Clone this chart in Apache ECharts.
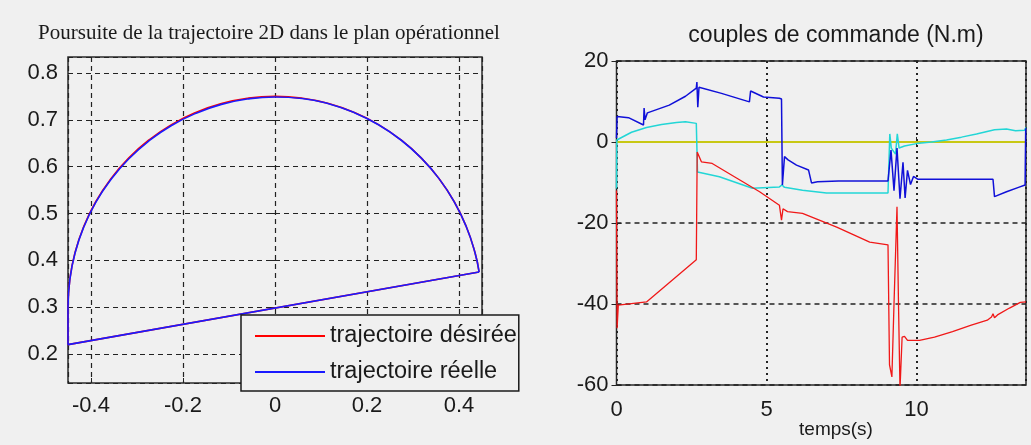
<!DOCTYPE html>
<html>
<head>
<meta charset="utf-8">
<script src="https://cdn.jsdelivr.net/npm/echarts@6/dist/echarts.min.js"></script>
<style>
  html, body { margin: 0; padding: 0; background: #f0f0f0; }
  #chart { width: 1031px; height: 445px; }
</style>
</head>
<body>
<div id="chart"></div>
<script>
// ---- Left panel: 2D trajectory in the operational plane ----
const planeXRange = [-0.45, 0.45];
const planeYRange = [0.138, 0.834];

// upper arc of the path
const desiredArcX = [-0.45, -0.4461, -0.4347, -0.4157, -0.3897, -0.3570, -0.3182, -0.2739, -0.225, -0.1722, -0.1165, -0.0587, 0, 0.0587, 0.1165, 0.1722, 0.225, 0.2739, 0.3182, 0.3570, 0.3897, 0.4157, 0.4347, 0.4437];
const desiredArcY = [0.30, 0.3587, 0.4165, 0.4722, 0.525, 0.5739, 0.6182, 0.6570, 0.6897, 0.7157, 0.7347, 0.7461, 0.75, 0.7461, 0.7347, 0.7157, 0.6897, 0.6570, 0.6182, 0.5739, 0.525, 0.4722, 0.4165, 0.375];
// straight return segment
const desiredChordX = [0.4437, -0.45, -0.45];
const desiredChordY = [0.375, 0.22, 0.30];

const realArcX = [-0.45, -0.4461, -0.4347, -0.4157, -0.3897, -0.3570, -0.3182, -0.2739, -0.225, -0.1722, -0.1165, -0.0587, 0, 0.0587, 0.1165, 0.1722, 0.225, 0.2739, 0.3182, 0.3570, 0.3897, 0.4157, 0.4347, 0.4437];
const realArcY = [0.30, 0.3580, 0.4155, 0.4710, 0.5235, 0.5720, 0.6162, 0.6550, 0.6877, 0.7137, 0.7329, 0.7445, 0.7487, 0.7455, 0.7342, 0.7153, 0.6894, 0.6568, 0.6180, 0.5738, 0.5249, 0.4721, 0.4165, 0.375];
const realChordX = [0.4437, -0.45, -0.45];
const realChordY = [0.375, 0.22, 0.30];

const planeNames = ['trajectoire désirée', 'trajectoire réelle'];

// ---- Right panel: control torques (N.m) against time (s) ----
const timeRange = [0, 13.65];
const torqueRange = [-60, 20];

const tBlue = [0, 0.02, 0.4, 0.9, 0.92, 0.95, 1.03, 1.76, 2.3, 2.66, 2.68, 2.71, 2.75, 3.5, 4.43, 4.47, 4.9, 5.43, 5.5, 5.53, 5.6, 5.72, 6.0, 6.4, 6.5, 6.7, 7.4, 9.05, 9.15, 9.25, 9.35, 9.45, 9.55, 9.62, 9.7, 9.8, 9.9, 10.05, 12.55, 12.6, 13.0, 13.4, 13.62, 13.64];
const uBlue = [1.0, 6.3, 6.0, 4.2, 8.4, 5.5, 7.2, 9.1, 11.3, 13.3, 14.8, 8.6, 13.5, 12.0, 9.9, 12.6, 11.1, 10.8, 10.6, -10.6, -3.6, -4.4, -5.7, -6.9, -10.1, -9.8, -9.6, -9.6, -2.0, -12.0, -1.5, -14.0, -5.0, -13.8, -7.0, -10.5, -8.5, -9.2, -9.2, -13.5, -12.3, -11.2, -10.6, 3.4];

const tCyan = [0, 0.01, 0.5, 1.0, 1.5, 2.0, 2.3, 2.66, 2.7, 3.43, 4.53, 5.43, 5.52, 5.6, 6.2, 7.0, 9.05, 9.08, 9.11, 9.16, 9.3, 9.36, 9.42, 9.6, 10.0, 10.5, 11.0, 11.5, 12.0, 12.6, 13.0, 13.3, 13.6, 13.65];
const uCyan = [-11.5, 0.5, 2.4, 3.6, 4.3, 4.8, 5.0, 4.6, -7.4, -8.6, -11.4, -11.1, -10.6, -11.2, -11.9, -12.6, -12.6, -12.6, 2.0, -1.5, -3.0, 2.0, -1.5, -1.0, -0.4, 0.0, 0.5, 1.2, 2.0, 3.0, 3.2, 2.8, 2.9, 3.6];

const tRed = [0, 0.02, 0.06, 1.0, 2.66, 2.69, 2.83, 3.19, 4.0, 4.77, 5.43, 5.5, 5.55, 5.7, 6.2, 7.34, 8.44, 9.05, 9.1, 9.18, 9.25, 9.35, 9.4, 9.45, 9.52, 9.6, 9.7, 10.1, 10.6, 11.2, 11.8, 12.36, 12.5, 12.55, 12.6, 12.7, 13.1, 13.46, 13.65];
const uRed = [-12, -46, -40.3, -39.5, -29.1, -2.5, -4.9, -5.3, -8.9, -12.3, -15.6, -19.3, -16.5, -17.2, -17.6, -21.0, -24.7, -25.4, -55, -58, -40, -16, -40, -61, -48.2, -48, -49, -49, -48.2, -46.8, -45.3, -44, -43.2, -42.4, -43.4, -42.7, -41, -39.6, -39.5];

const tYellow = [0, 13.65];
const uYellow = [0, 0];

const pairs = (xs, ys) => xs.map((x, i) => [x, ys[i]]);

const SANS = '"Liberation Sans", Arial, sans-serif';
const SERIF = '"Liberation Serif", "Times New Roman", serif';
const INK = '#1a1a1a';
const BG = '#f0f0f0';
const RED = '#ff0000';
const BLUE = '#1a1aff';

const tickIn = { show: true, inside: true, length: 5, lineStyle: { color: '#222', width: 1 } };
const labelStyle = { fontFamily: SANS, fontSize: 22, color: INK };

function mirrorAxis(gridIndex, position, range, interval) {
  const ax = {
    type: 'value', gridIndex, position, min: range[0], max: range[1],
    axisLine: { show: false }, axisTick: tickIn, axisLabel: { show: false }, splitLine: { show: false }
  };
  if (interval) ax.interval = interval;
  return ax;
}

function planeLine(name, xs, ys, color, smooth) {
  return { name, type: 'line', xAxisIndex: 0, yAxisIndex: 0, data: pairs(xs, ys), smooth,
    showSymbol: false, symbol: 'none', color, lineStyle: { width: 1.6 } };
}

function torqueLine(ts, us, color, width) {
  return { type: 'line', xAxisIndex: 1, yAxisIndex: 1, data: pairs(ts, us),
    showSymbol: false, symbol: 'none', color, lineStyle: { width } };
}

const option = {
  animation: false,
  backgroundColor: BG,
  grid: [
    { left: 68, top: 57, width: 414, height: 326, show: true, borderColor: '#2a2a2a', borderWidth: 1.5, backgroundColor: 'transparent' },
    { left: 616.5, top: 61, width: 409.5, height: 324, show: true, borderColor: '#2a2a2a', borderWidth: 1.5, backgroundColor: 'transparent' }
  ],
  xAxis: [
    { type: 'value', gridIndex: 0, min: planeXRange[0], max: planeXRange[1], position: 'bottom',
      axisLine: { show: false }, axisTick: tickIn,
      axisLabel: Object.assign({ margin: 12, showMinLabel: false, showMaxLabel: false }, labelStyle),
      splitLine: { show: true, lineStyle: { color: '#222', width: 1.2, type: [5, 4] } } },
    { type: 'value', gridIndex: 1, min: timeRange[0], max: timeRange[1], interval: 5, position: 'bottom',
      axisLine: { show: false }, axisTick: tickIn,
      axisLabel: Object.assign({ margin: 14, showMaxLabel: false }, labelStyle),
      splitLine: { show: true, lineStyle: { color: '#222', width: 2, type: [2, 4] } } },
    mirrorAxis(0, 'top', planeXRange),
    mirrorAxis(1, 'top', timeRange, 5)
  ],
  yAxis: [
    { type: 'value', gridIndex: 0, min: planeYRange[0], max: planeYRange[1], position: 'left',
      axisLine: { show: false }, axisTick: tickIn,
      axisLabel: Object.assign({ margin: 10, showMinLabel: false, showMaxLabel: false }, labelStyle),
      splitLine: { show: true, lineStyle: { color: '#222', width: 1.2, type: [5, 4] } } },
    { type: 'value', gridIndex: 1, min: torqueRange[0], max: torqueRange[1], interval: 20, position: 'left',
      axisLine: { show: false }, axisTick: tickIn,
      axisLabel: Object.assign({ margin: 8 }, labelStyle),
      splitLine: { show: true, lineStyle: { color: '#222', width: 1.5, type: [5, 4] } } },
    mirrorAxis(0, 'right', planeYRange),
    mirrorAxis(1, 'right', torqueRange, 20)
  ],
  legend: {
    orient: 'vertical', left: 241, top: 315,
    padding: [8, 2, 6, 14],
    itemWidth: 70, itemHeight: 2, itemGap: 10,
    backgroundColor: BG, borderColor: '#1a1a1a', borderWidth: 1.5, borderRadius: 0,
    textStyle: { fontFamily: SANS, fontSize: 23.5, color: INK, lineHeight: 26 },
    data: planeNames.map(n => ({ name: n, icon: 'rect' }))
  },
  graphic: [
    { type: 'text', x: 269, y: 33, silent: true,
      style: { legacy: false, text: 'Poursuite de la trajectoire 2D dans le plan opérationnel', font: '21px ' + SERIF, fill: INK, align: 'center', verticalAlign: 'middle' } },
    { type: 'text', x: 836, y: 36, silent: true,
      style: { legacy: false, text: 'couples de commande (N.m)', font: '23px ' + SANS, fill: INK, align: 'center', verticalAlign: 'middle' } },
    { type: 'text', x: 836, y: 430, silent: true,
      style: { legacy: false, text: 'temps(s)', font: '19px ' + SANS, fill: INK, align: 'center', verticalAlign: 'middle' } }
  ],
  series: [
    planeLine(planeNames[0], desiredArcX, desiredArcY, RED, true),
    planeLine(planeNames[0], desiredChordX, desiredChordY, RED, false),
    planeLine(planeNames[1], realArcX, realArcY, BLUE, true),
    planeLine(planeNames[1], realChordX, realChordY, BLUE, false),

    torqueLine(tYellow, uYellow, '#c8c814', 1.8),
    torqueLine(tCyan, uCyan, '#22d6d6', 1.5),
    torqueLine(tBlue, uBlue, '#1010d8', 1.5),
    torqueLine(tRed, uRed, '#f01818', 1.3)
  ]
};

const chart = echarts.init(document.getElementById('chart'), null, { renderer: 'canvas' });
chart.setOption(option);
</script>
</body>
</html>
